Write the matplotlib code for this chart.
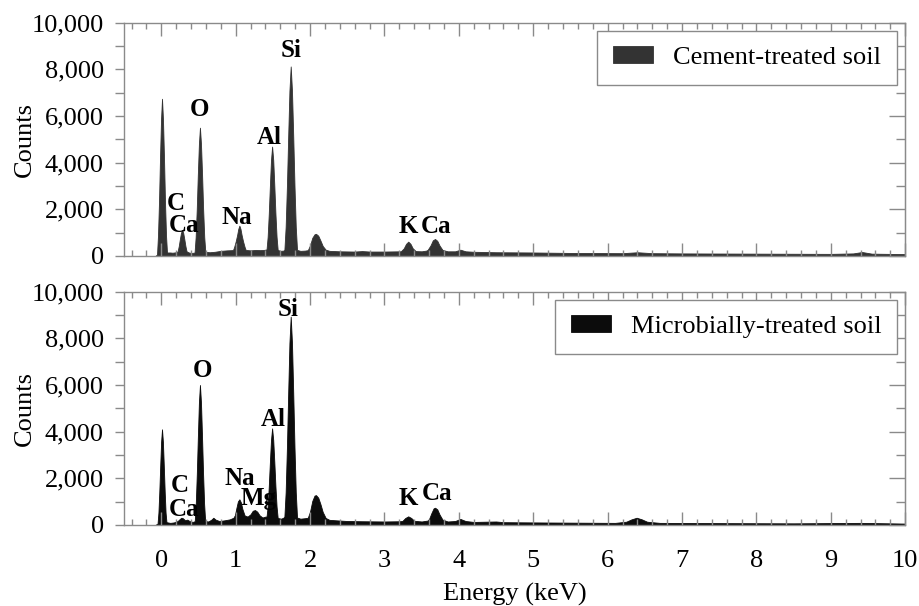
import matplotlib
matplotlib.use("Agg")
import matplotlib.pyplot as plt
from matplotlib.ticker import MultipleLocator, StrMethodFormatter

plt.rcParams['font.family'] = ['Liberation Serif', 'DejaVu Serif']

# --- spectrum: cement-treated soil (top) ---
energia_cim = [-0.08, -0.057, -0.044, -0.030, -0.017, -0.003, 0.01, 0.023, 0.037, 0.050, 0.064, 0.077,
               0.12, 0.15, 0.20, 0.22, 0.235, 0.25, 0.265, 0.28, 0.295, 0.31, 0.325, 0.34, 0.37, 0.40, 0.44,
               0.448, 0.462, 0.477, 0.491, 0.506, 0.52, 0.534, 0.549, 0.563, 0.578, 0.592,
               0.65, 0.72, 0.80, 0.88, 0.95,
               0.965, 0.98, 1.00, 1.02, 1.035, 1.05, 1.065, 1.08, 1.10, 1.12, 1.135,
               1.20, 1.27, 1.33, 1.38,
               1.415, 1.43, 1.445, 1.46, 1.475, 1.49, 1.505, 1.52, 1.535, 1.55, 1.565,
               1.60, 1.64,
               1.655, 1.672, 1.689, 1.706, 1.723, 1.74, 1.757, 1.774, 1.791, 1.808, 1.825,
               1.87, 1.93,
               1.97, 2.00, 2.03, 2.06, 2.08, 2.11, 2.14, 2.17, 2.21, 2.26,
               2.4, 2.6, 2.7, 2.8, 3.0, 3.2,
               3.22, 3.26, 3.29, 3.32, 3.35, 3.38, 3.42, 3.50, 3.56,
               3.58, 3.62, 3.65, 3.68, 3.71, 3.74, 3.78, 3.85, 3.95, 4.02, 4.09, 4.2,
               4.5, 5.0, 5.5, 6.2, 6.4, 6.6, 7.0, 8.0, 9.0, 9.3, 9.42, 9.55, 10.0]
contagem_cim = [0, 60, 880, 2360, 4180, 5860, 6740, 5860, 4180, 2360, 880, 150,
                150, 140, 160, 200, 420, 720, 990, 1115, 990, 720, 420, 200, 150, 130, 140,
                160, 800, 2000, 3450, 4800, 5500, 4800, 3450, 2000, 800, 180,
                160, 180, 220, 240, 250,
                260, 390, 620, 900, 1160, 1300, 1160, 900, 620, 390, 260,
                240, 260, 250, 260,
                280, 820, 1800, 3000, 4110, 4690, 4110, 3000, 1800, 820, 260,
                220, 230,
                260, 1250, 2990, 5120, 7090, 8125, 7090, 5120, 2990, 1250, 260,
                220, 230,
                250, 460, 780, 930, 950, 870, 660, 430, 270, 220,
                200, 190, 210, 190, 190, 200,
                200, 330, 520, 615, 520, 330, 210, 200, 230,
                260, 460, 670, 730, 650, 450, 260, 200, 200, 270, 200, 180,
                160, 150, 130, 120, 160, 120, 110, 100, 90, 110, 170, 100, 80]

# --- spectrum: microbially-treated soil (bottom) ---
energia_mic = [-0.08, -0.05, -0.038, -0.026, -0.014, -0.002, 0.01, 0.022, 0.034, 0.046, 0.058, 0.07,
               0.12, 0.17, 0.22, 0.25, 0.27, 0.29, 0.32, 0.35, 0.38, 0.42, 0.45,
               0.464, 0.478, 0.492, 0.506, 0.52, 0.534, 0.548, 0.562, 0.576, 0.59,
               0.63, 0.67, 0.70, 0.73, 0.78, 0.85, 0.92, 0.97,
               0.99, 1.01, 1.03, 1.05, 1.07, 1.09, 1.12, 1.16,
               1.20, 1.23, 1.26, 1.29, 1.32, 1.36, 1.40,
               1.415, 1.43, 1.445, 1.46, 1.475, 1.49, 1.505, 1.52, 1.535, 1.55, 1.565,
               1.61, 1.64,
               1.655, 1.672, 1.689, 1.706, 1.723, 1.74, 1.757, 1.774, 1.791, 1.808, 1.825,
               1.87, 1.93,
               1.97, 2.00, 2.03, 2.06, 2.08, 2.11, 2.14, 2.17, 2.21, 2.26,
               2.35, 2.5, 2.7, 3.0, 3.2,
               3.24, 3.28, 3.32, 3.36, 3.40, 3.5, 3.58,
               3.60, 3.63, 3.66, 3.68, 3.71, 3.74, 3.78, 3.85, 3.95, 4.02, 4.09, 4.2,
               4.5, 4.6, 5.0, 5.5, 6.1, 6.25, 6.32, 6.39, 6.46, 6.53, 6.7, 7.5, 8.5, 9.4, 10.0]
contagem_mic = [0, 60, 530, 1440, 2540, 3570, 4100, 3570, 2540, 1440, 530, 120,
                90, 110, 170, 260, 310, 290, 200, 230, 170, 130, 160,
                910, 2200, 3780, 5240, 6000, 5240, 3780, 2200, 910, 170,
                150, 220, 310, 230, 170, 200, 240, 310,
                420, 730, 1010, 1100, 970, 690, 410, 360,
                460, 610, 640, 570, 420, 320, 360,
                360, 790, 1640, 2680, 3640, 4140, 3640, 2680, 1640, 790, 300,
                270, 310,
                360, 1400, 3310, 5640, 7810, 8930, 7810, 5640, 3310, 1400, 320,
                270, 290,
                310, 580, 1030, 1260, 1280, 1170, 890, 560, 300, 220,
                200, 170, 160, 150, 160,
                170, 300, 370, 300, 180, 150, 190,
                260, 500, 710, 740, 670, 450, 230, 150, 170, 260, 170, 130,
                150, 120, 110, 100, 90, 140, 240, 310, 240, 140, 90, 80, 70, 90, 60]

# element labels (text, energy, counts where the label sits)
rotulos_cim = [("Si", 1.74, 8830), ("O", 0.52, 6300), ("Al", 1.45, 5100),
               ("C", 0.19, 2250), ("Ca", 0.30, 1300), ("Na", 1.02, 1630),
               ("K", 3.32, 1260), ("Ca", 3.70, 1260)]
rotulos_mic = [("Si", 1.71, 9215), ("O", 0.55, 6640), ("Al", 1.50, 4530),
               ("Na", 1.06, 2000), ("Mg", 1.31, 1140), ("C", 0.255, 1680),
               ("Ca", 0.31, 680), ("K", 3.32, 1140), ("Ca", 3.71, 1360)]

cinza = '#8a8a8a'
fig = plt.figure(figsize=(9.19, 6.06), dpi=100)
ax1 = fig.add_axes([0.135, 0.5776, 0.850, 0.3849])
ax2 = fig.add_axes([0.135, 0.1337, 0.850, 0.3850])

paineis = [(ax1, energia_cim, contagem_cim, '#333333', 'Cement-treated soil', rotulos_cim),
           (ax2, energia_mic, contagem_mic, '#0c0c0c', 'Microbially-treated soil', rotulos_mic)]

for ax, e, c, cor, nome, rotulos in paineis:
    ax.fill_between(e, c, 0, color=cor, lw=0.6, label=nome)
    ax.set_xlim(-0.5, 10)
    ax.set_ylim(0, 10000)
    for s in ax.spines.values():
        s.set_color(cinza)
        s.set_linewidth(1.0)
    ax.xaxis.set_major_locator(MultipleLocator(1))
    ax.xaxis.set_minor_locator(MultipleLocator(0.2))
    ax.yaxis.set_major_locator(MultipleLocator(2000))
    ax.yaxis.set_minor_locator(MultipleLocator(1000))
    ax.yaxis.set_major_formatter(StrMethodFormatter('{x:,.0f}'))
    ax.tick_params(axis='x', which='both', direction='in', top=True, bottom=True,
                   color=cinza, labelsize=19, pad=18)
    ax.tick_params(axis='x', which='major', length=9.5, width=1)
    ax.tick_params(axis='x', which='minor', length=4.5, width=1)
    ax.tick_params(axis='y', which='both', direction='out', right=False,
                   color=cinza, labelsize=19, pad=8)
    ax.tick_params(axis='y', which='major', length=6.5, width=1)
    ax.tick_params(axis='y', which='minor', length=6.5, width=1)
    # right side ticks point inward
    dir_ax = ax.secondary_yaxis('right')
    dir_ax.yaxis.set_major_locator(MultipleLocator(2000))
    dir_ax.yaxis.set_minor_locator(MultipleLocator(1000))
    dir_ax.tick_params(which='both', direction='in', color=cinza, labelright=False)
    dir_ax.tick_params(which='major', length=11.5, width=1)
    dir_ax.tick_params(which='minor', length=6.5, width=1)
    dir_ax.spines['right'].set_color(cinza)
    ax.set_ylabel('Counts', fontsize=19)
    ax.yaxis.set_label_coords(-0.113, 0.5)
    for txt, x, y in rotulos:
        ax.text(x, y, txt, ha='center', va='center', fontsize=18, fontweight='bold')
    leg = ax.legend(loc='upper right', fontsize=19, handlelength=1.52, handleheight=0.6,
                    handletextpad=0.76, borderpad=0.6, borderaxespad=0.3,
                    fancybox=False, framealpha=1)
    leg.get_frame().set_edgecolor(cinza)
    leg.get_frame().set_linewidth(1.0)

ax1.tick_params(axis='x', labelbottom=False)
ax2.set_xlabel('Energy (keV)', fontsize=19)
ax2.xaxis.set_label_coords(0.5, -0.25)

fig.savefig('out.png', dpi=100)
